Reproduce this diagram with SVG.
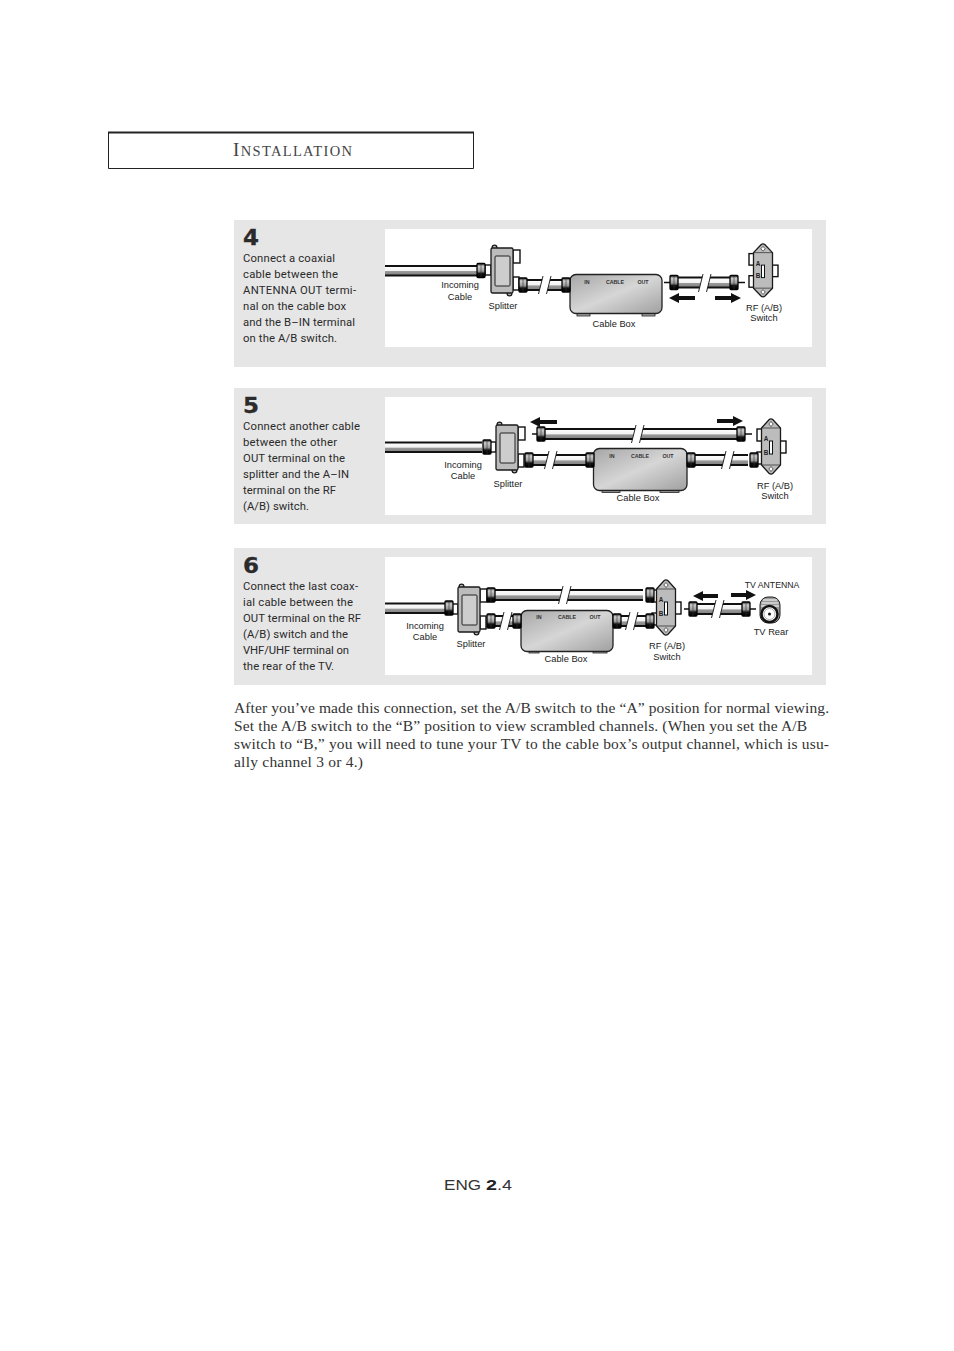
<svg xmlns="http://www.w3.org/2000/svg" width="954" height="1351" viewBox="0 0 954 1351">
<style>
.panel{fill:#e6e6e6}
.white{fill:#fff}
.step{font:400 11.300px Roboto,"Liberation Sans",sans-serif;fill:#2a2a2a}
.num{font:700 21px "DejaVu Sans",sans-serif;fill:#2b2b2b;stroke:#2b2b2b;stroke-width:.3}
.body{font:400 15.500px "Liberation Serif",serif;fill:#333}
.lab{font:400 9.300px "Liberation Sans",Arial,sans-serif;fill:#222;text-anchor:middle}
.tiny{font:700 5.300px "Liberation Sans",Arial,sans-serif;fill:#333;text-anchor:middle}
.ab{font:700 6.400px "Liberation Sans",Arial,sans-serif;fill:#222;text-anchor:middle}
.cf{fill:url(#cableGrad)}
.cs{fill:none;stroke:#111;stroke-width:2}
.pin{fill:none;stroke:#111;stroke-width:1.600}
.arrow{stroke:#111;stroke-width:4;marker-end:url(#head)}
.box{fill:url(#boxGrad);stroke:#222;stroke-width:1.300}
.foot{fill:#aaa;stroke:#222;stroke-width:.8}
.tab{fill:#fff;stroke:#111;stroke-width:1.400}
.bd{fill:#bcbcbc;stroke:#1a1a1a;stroke-width:1.300}
</style>
<defs>
<linearGradient id="cableGrad" x1="0" y1="0" x2="0" y2="1"><stop offset="0" stop-color="#fff"/><stop offset=".5" stop-color="#f2f2f2"/><stop offset=".58" stop-color="#999"/><stop offset="1" stop-color="#808080"/></linearGradient>
<linearGradient id="nutGrad" x1="0" y1="0" x2="0" y2="1"><stop offset="0" stop-color="#222"/><stop offset=".2" stop-color="#ccc"/><stop offset=".55" stop-color="#999"/><stop offset=".72" stop-color="#111"/><stop offset="1" stop-color="#000"/></linearGradient>
<linearGradient id="boxGrad" x1="0" y1="0" x2="1" y2="1"><stop offset="0" stop-color="#a6a6a6"/><stop offset=".5" stop-color="#d6d6d6"/><stop offset="1" stop-color="#a0a0a0"/></linearGradient>
<marker id="head" markerUnits="userSpaceOnUse" markerWidth="10" markerHeight="10" refX="1" refY="5" orient="auto"><path d="M0 0L10 5L0 10z" fill="#111"/></marker>
<g id="nut"><rect x="0" y="-7" width="8" height="14" rx="1" fill="url(#nutGrad)" stroke="#000" stroke-width="1.300"/><path d="M4-7v14" stroke="#333" stroke-width=".6"/></g>
<g id="brk"><path d="M0-9L-4.500 9H3.500L8-9z" fill="#fff"/><path d="M0-9L-4.500 9M8-9L3.500 9" stroke="#111" fill="none" stroke-width=".9"/></g>
<g id="splitter">
<rect class="tab" x="-6" y="17" width="6" height="10"/>
<rect class="tab" x="22" y="2" width="7" height="13"/>
<rect class="tab" x="22" y="29" width="6" height="13"/>
<circle cx="3.500" cy="-.5" r="2.400" class="bd"/><circle cx="18.500" cy="45.500" r="2.400" class="bd"/>
<rect class="bd" width="22" height="45" rx="1.500"/>
<rect x="4" y="8" width="15" height="30" rx="1" fill="#cdcdcd" stroke="#222"/>
</g>
<g id="switch">
<rect class="tab" x="-14" y="10" width="5" height="12"/>
<rect class="tab" x="-14" y="33" width="5" height="12"/>
<rect class="tab" x="9" y="22" width="6" height="12"/>
<path class="bd" d="M-9.500 9L-2 .8Q0-1 2 .8L9.500 9V46L2 54.200Q0 56-2 54.200L-9.500 46z"/>
<path d="M-9 9H9M-9 46H9" stroke="#222" stroke-width=".7"/>
<path d="M0 2.500L2.200 5L0 7.500L-2.200 5zM0 47.500L2.200 50L0 52.500L-2.200 50z" fill="#fff" stroke="#222" stroke-width=".7"/>
<rect x="-1.500" y="22" width="3" height="13" fill="#fff" stroke="#111"/>
</g>
</defs>
<rect width="954" height="1351" fill="#fff"/>

<g id="header">
<path d="M108.500 132.500H473.500V168.500H108.500Z" fill="#fff" stroke="#222"/>
<path d="M108 132.500H474" stroke="#222" stroke-width="2"/>
<text x="233" y="156" font-family="Liberation Serif,serif" fill="#444" font-size="14.500" textLength="119"><tspan font-size="19">I</tspan>NSTALLATION</text>
</g>

<g id="panels">
<rect class="panel" x="234" y="220" width="592" height="147"/><rect class="white" x="385" y="229" width="427" height="118"/>
<rect class="panel" x="234" y="388" width="592" height="136"/><rect class="white" x="385" y="397" width="427" height="118"/>
<rect class="panel" x="234" y="548" width="592" height="137"/><rect class="white" x="385" y="557" width="427" height="118"/>
</g>

<g id="step4">
<text class="num" x="243" y="245" textLength="16" lengthAdjust="spacingAndGlyphs">4</text>
<text class="step" x="243" y="262" textLength="92">Connect a coaxial</text>
<text class="step" x="243" y="278" textLength="95">cable between the</text>
<text class="step" x="243" y="294" textLength="113">ANTENNA OUT termi-</text>
<text class="step" x="243" y="310" textLength="103">nal on the cable box</text>
<text class="step" x="243" y="326" textLength="112">and the B–IN terminal</text>
<text class="step" x="243" y="342" textLength="94">on the A/B switch.</text>
</g>
<g id="step5">
<text class="num" x="243" y="413" textLength="16" lengthAdjust="spacingAndGlyphs">5</text>
<text class="step" x="243" y="430" textLength="117">Connect another cable</text>
<text class="step" x="243" y="446" textLength="94">between the other</text>
<text class="step" x="243" y="462" textLength="102">OUT terminal on the</text>
<text class="step" x="243" y="478" textLength="106">splitter and the A–IN</text>
<text class="step" x="243" y="494" textLength="93">terminal on the RF</text>
<text class="step" x="243" y="510" textLength="66">(A/B) switch.</text>
</g>
<g id="step6">
<text class="num" x="243" y="573" textLength="16" lengthAdjust="spacingAndGlyphs">6</text>
<text class="step" x="243" y="590" textLength="115">Connect the last coax-</text>
<text class="step" x="243" y="606" textLength="110">ial cable between the</text>
<text class="step" x="243" y="622" textLength="118">OUT terminal on the RF</text>
<text class="step" x="243" y="638" textLength="105">(A/B) switch and the</text>
<text class="step" x="243" y="654" textLength="106">VHF/UHF terminal on</text>
<text class="step" x="243" y="670" textLength="91">the rear of the TV.</text>
</g>

<g id="p4-splitter"><use href="#splitter" x="491" y="248"/>
<text class="lab" x="460" y="288">Incoming</text><text class="lab" x="460" y="300">Cable</text><text class="lab" x="503" y="309">Splitter</text></g>
<g id="p4-box"><rect class="foot" x="577" y="312" width="13" height="4"/><rect class="foot" x="642" y="312" width="13" height="4"/><rect class="box" x="570" y="274.500" width="92" height="39" rx="6"/>
<text class="tiny" x="587" y="284">IN</text><text class="tiny" x="615" y="284">CABLE</text><text class="tiny" x="643" y="284">OUT</text><text class="lab" x="614" y="327">Cable Box</text></g>
<g id="p4-switch"><use href="#switch" transform="translate(763 244) scale(1 .96)"/>
<text class="ab" x="758" y="266">A</text><text class="ab" x="758" y="278">B</text>
<text class="lab" x="764" y="311">RF (A/B)</text><text class="lab" x="764" y="321">Switch</text></g>

<g id="p5-splitter"><use href="#splitter" x="496" y="425"/>
<text class="lab" x="463" y="468">Incoming</text><text class="lab" x="463" y="479">Cable</text><text class="lab" x="508" y="487">Splitter</text></g>
<g id="p5-box"><rect class="foot" x="602" y="488" width="18" height="4.500"/><rect class="foot" x="660" y="488" width="19" height="4.500"/><rect class="box" x="593.500" y="448.500" width="93.500" height="42" rx="6"/>
<text class="tiny" x="612" y="458">IN</text><text class="tiny" x="640" y="458">CABLE</text><text class="tiny" x="668" y="458">OUT</text><text class="lab" x="638" y="501">Cable Box</text></g>
<g id="p5-switch"><use href="#switch" x="771" y="419"/>
<text class="ab" x="766" y="441">A</text><text class="ab" x="766" y="455">B</text>
<text class="lab" x="775" y="489">RF (A/B)</text><text class="lab" x="775" y="499">Switch</text></g>

<g id="p6-splitter"><use href="#splitter" x="458" y="587"/>
<text class="lab" x="425" y="629">Incoming</text><text class="lab" x="425" y="640">Cable</text><text class="lab" x="471" y="647">Splitter</text></g>
<g id="p6-box"><rect class="foot" x="529" y="649" width="10" height="4"/><rect class="foot" x="593" y="649" width="14" height="4"/><rect class="box" x="521" y="610.500" width="92" height="41" rx="6"/>
<text class="tiny" x="539" y="619">IN</text><text class="tiny" x="567" y="619">CABLE</text><text class="tiny" x="595" y="619">OUT</text><text class="lab" x="566" y="662">Cable Box</text></g>
<g id="p6-switch"><use href="#switch" x="666" y="580"/>
<text class="ab" x="661" y="602">A</text><text class="ab" x="661" y="616">B</text>
<text class="lab" x="667" y="649">RF (A/B)</text><text class="lab" x="667" y="660">Switch</text></g>
<g id="p6-tv">
<rect x="760" y="597" width="20" height="26" rx="8" fill="#999" stroke="#222"/>
<path d="M763 600H777M761.500 603H778.500M761 606H779" stroke="#fff" stroke-width="1"/>
<circle cx="769.500" cy="614" r="8" fill="#fff" stroke="#111" stroke-width="2.500"/>
<circle cx="769.500" cy="614" r="5.500" fill="none" stroke="#999" stroke-width=".8"/>
<circle cx="769.500" cy="614" r="1.500" fill="#111"/>
<text class="lab" x="772" y="588" style="font-size:8.700px">TV ANTENNA</text>
<text class="lab" x="771" y="635">TV Rear</text></g>

<g id="connectors">
<path class="cf" d="M385 266h92v9.500h-92z"/><path class="cs" d="M385 266h92M385 275.500h92"/><use href="#nut" x="477" y="270.500"/>
<path class="cf" d="M527 280h35v10h-35z"/><path class="cs" d="M527 280h35M527 290h35"/><use href="#brk" x="543" y="285"/><use href="#nut" x="519" y="285"/><use href="#nut" x="562" y="285"/>
<path class="pin" d="M664 282.500h6M737 282.500h8"/>
<path class="cf" d="M678 277.500h52v10h-52z"/><path class="cs" d="M678 277.500h52M678 287.500h52"/><use href="#brk" x="703" y="283"/><use href="#nut" x="670" y="282.500"/><use href="#nut" x="730" y="282.500"/>
<line class="arrow" x1="695" y1="298" x2="678" y2="298"/><line class="arrow" x1="715" y1="298" x2="732" y2="298"/>
<path class="cf" d="M385 442.500h97v9.500h-97z"/><path class="cs" d="M385 442.500h97M385 452h97"/><use href="#nut" x="483" y="447"/>
<path class="cf" d="M533 455h53v10h-53z"/><path class="cs" d="M533 455h53M533 465h53"/><use href="#brk" x="549" y="460"/><use href="#nut" x="525" y="460"/><use href="#nut" x="586" y="460"/>
<path class="pin" d="M532 434h5M745 434h7"/>
<path class="cf" d="M544 429h193v10H544z"/><path class="cs" d="M544 429h193M544 439h193"/><use href="#brk" x="636" y="434"/><use href="#nut" x="537" y="434"/><use href="#nut" x="737" y="434"/>
<path class="cf" d="M693 455h55v10h-55z"/><path class="cs" d="M693 455h55M693 465h55"/><use href="#brk" x="726" y="460"/><use href="#nut" x="687" y="460"/><use href="#nut" x="750" y="460"/>
<line class="arrow" x1="557" y1="422" x2="539" y2="422"/><line class="arrow" x1="717" y1="421" x2="734" y2="421"/>
<path class="cf" d="M385 603.500h60v9.500h-60z"/><path class="cs" d="M385 603.500h60M385 613h60"/><use href="#nut" x="445" y="608"/>
<path class="cf" d="M495 590h148v10H495z"/><path class="cs" d="M495 590h148M495 600h148"/><use href="#brk" x="563" y="595"/><use href="#nut" x="487" y="595"/><use href="#nut" x="646" y="595"/>
<path class="cf" d="M495 616h18v10h-18z"/><path class="cs" d="M495 616h18M495 626h18"/><use href="#brk" x="504" y="621"/><use href="#nut" x="487" y="621"/><use href="#nut" x="513" y="621"/>
<path class="cf" d="M620 616h26v10h-26z"/><path class="cs" d="M620 616h26M620 626h26"/><use href="#brk" x="630" y="621"/><use href="#nut" x="613" y="621"/><use href="#nut" x="646" y="621"/>
<path class="pin" d="M684 609h5M750 609h6"/>
<path class="cf" d="M697 604h45v10h-45z"/><path class="cs" d="M697 604h45M697 614h45"/><use href="#brk" x="716" y="609"/><use href="#nut" x="689" y="609"/><use href="#nut" x="742" y="609"/>
<line class="arrow" x1="718" y1="596" x2="702" y2="596"/><line class="arrow" x1="731" y1="595" x2="747" y2="595"/>
</g>

<g id="bodytext">
<text class="body" x="234" y="713" textLength="595">After you’ve made this connection, set the A/B switch to the “A” position for normal viewing.</text>
<text class="body" x="234" y="731" textLength="573">Set the A/B switch to the “B” position to view scrambled channels. (When you set the A/B</text>
<text class="body" x="234" y="749" textLength="595">switch to “B,” you will need to tune your TV to the cable box’s output channel, which is usu-</text>
<text class="body" x="234" y="767" textLength="129">ally channel 3 or 4.)</text>
</g>
<g id="footer" font-family="Liberation Sans,sans-serif" font-size="14.500" fill="#333">
<text x="444" y="1190" textLength="37" lengthAdjust="spacingAndGlyphs">ENG</text>
<text x="486" y="1190" textLength="11" lengthAdjust="spacingAndGlyphs" font-weight="700" fill="#222">2</text>
<text x="497" y="1190" textLength="15" lengthAdjust="spacingAndGlyphs">.4</text>
</g>
</svg>
